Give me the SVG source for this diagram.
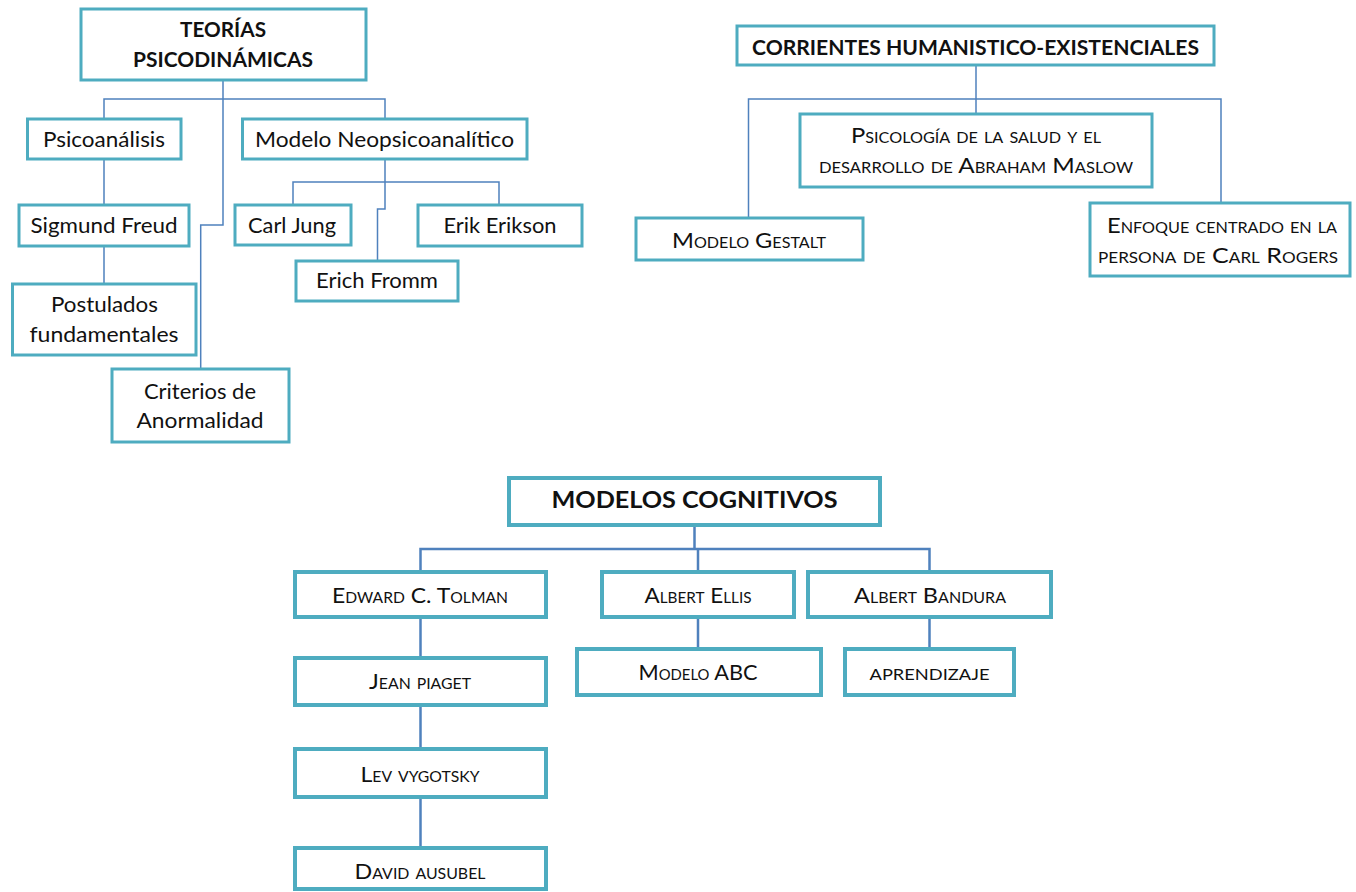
<svg xmlns="http://www.w3.org/2000/svg" width="1356" height="892" viewBox="0 0 1356 892">
<style>
.bx{fill:#fff;stroke:#4eacc0;stroke-width:3}
.bx4{fill:#fff;stroke:#4eacc0;stroke-width:4}
.ln{fill:none;stroke:#4f81bd;stroke-width:1.5}
.lnb{fill:none;stroke:#4f81bd;stroke-width:2.5}
text{font-family:Lato,"Liberation Sans",sans-serif;fill:#111;text-anchor:middle}
.t{font-size:22px}
.h{font-size:21px;font-weight:bold}
.sc{font-size:22px;font-variant:small-caps}
</style>
<rect width="1356" height="892" fill="#fff"/>
<g id="connectors">
<path class="ln" d="M223,80 V225 H200.7 V369"/>
<path class="ln" d="M104,119 V99 H385 V119"/>
<path class="ln" d="M104,159 V205 M104,246 V284"/>
<path class="ln" d="M385,159 V209 H377.5 V261"/>
<path class="ln" d="M293,205 V182 H499 V205"/>
<path class="ln" d="M976,65 V114"/>
<path class="ln" d="M748.5,218 V99 H1221 V203"/>
<path class="lnb" d="M694.5,525 V549"/>
<path class="lnb" d="M420.5,572 V549 H929.5 V572 M698,549 V572"/>
<path class="lnb" d="M420.5,617 V658 M420.5,705 V749 M420.5,797 V848"/>
<path class="lnb" d="M698,617 V649 M929.5,617 V649"/>
</g>
<g id="teorias"><rect class="bx" x="81" y="9" width="285" height="71"/><text class="h" x="223" y="37" textLength="86" lengthAdjust="spacingAndGlyphs">TEORÍAS</text><text class="h" x="223" y="67" textLength="180" lengthAdjust="spacingAndGlyphs">PSICODINÁMICAS</text></g>
<g id="psicoanalisis"><rect class="bx" x="27.5" y="119" width="153.5" height="40"/><text class="t" x="104" y="147" textLength="122" lengthAdjust="spacingAndGlyphs">Psicoanálisis</text></g>
<g id="neopsico"><rect class="bx" x="242.5" y="119" width="284.5" height="40"/><text class="t" x="384.5" y="147" textLength="259" lengthAdjust="spacingAndGlyphs">Modelo Neopsicoanalítico</text></g>
<g id="freud"><rect class="bx" x="19" y="205" width="170" height="41"/><text class="t" x="104" y="233" textLength="147" lengthAdjust="spacingAndGlyphs">Sigmund Freud</text></g>
<g id="jung"><rect class="bx" x="235" y="205" width="116" height="40"/><text class="t" x="292" y="233" textLength="88" lengthAdjust="spacingAndGlyphs">Carl Jung</text></g>
<g id="erikson"><rect class="bx" x="418" y="205" width="164" height="41"/><text class="t" x="500" y="233" textLength="113" lengthAdjust="spacingAndGlyphs">Erik Erikson</text></g>
<g id="fromm"><rect class="bx" x="296" y="261" width="162" height="40"/><text class="t" x="377" y="288" textLength="122" lengthAdjust="spacingAndGlyphs">Erich Fromm</text></g>
<g id="postulados"><rect class="bx" x="12.5" y="284" width="183.5" height="71"/><text class="t" x="104.5" y="312" textLength="107" lengthAdjust="spacingAndGlyphs">Postulados</text><text class="t" x="104" y="342" textLength="149" lengthAdjust="spacingAndGlyphs">fundamentales</text></g>
<g id="criterios"><rect class="bx" x="112" y="369" width="177" height="73"/><text class="t" x="200" y="399" textLength="112" lengthAdjust="spacingAndGlyphs">Criterios de</text><text class="t" x="200" y="428" textLength="127" lengthAdjust="spacingAndGlyphs">Anormalidad</text></g>
<g id="corrientes"><rect class="bx" x="737" y="26" width="477" height="39"/><text class="h" x="975.5" y="55" textLength="447" lengthAdjust="spacingAndGlyphs">CORRIENTES HUMANISTICO-EXISTENCIALES</text></g>
<g id="maslow"><rect class="bx" x="800" y="114" width="352" height="73"/><text class="sc" x="976" y="143" textLength="250" lengthAdjust="spacingAndGlyphs">Psicología de la salud y el</text><text class="sc" x="976" y="173" textLength="314" lengthAdjust="spacingAndGlyphs">desarrollo de Abraham Maslow</text></g>
<g id="gestalt"><rect class="bx" x="636" y="218" width="227" height="42"/><text class="sc" x="749" y="248" textLength="154" lengthAdjust="spacingAndGlyphs">Modelo Gestalt</text></g>
<g id="rogers"><rect class="bx" x="1090" y="203" width="260" height="73"/><text class="sc" x="1222" y="233" textLength="230" lengthAdjust="spacingAndGlyphs">Enfoque centrado en la</text><text class="sc" x="1218" y="263" textLength="240" lengthAdjust="spacingAndGlyphs">persona de Carl Rogers</text></g>
<g id="cognitivos"><rect class="bx4" x="509" y="478" width="371" height="47"/><text class="h" x="694.5" y="508" style="font-size:23px" textLength="286" lengthAdjust="spacingAndGlyphs">MODELOS COGNITIVOS</text></g>
<g id="tolman"><rect class="bx4" x="295" y="572" width="251" height="45"/><text class="sc" x="420" y="603" textLength="176" lengthAdjust="spacingAndGlyphs">Edward C. Tolman</text></g>
<g id="piaget"><rect class="bx4" x="295" y="658" width="251" height="47"/><text class="sc" x="420" y="689" textLength="102" lengthAdjust="spacingAndGlyphs">Jean piaget</text></g>
<g id="vygotsky"><rect class="bx4" x="295" y="749" width="251" height="48"/><text class="sc" x="420" y="782" textLength="119" lengthAdjust="spacingAndGlyphs">Lev vygotsky</text></g>
<g id="ausubel"><rect class="bx4" x="295" y="848" width="251" height="41"/><text class="sc" x="420" y="879" textLength="131" lengthAdjust="spacingAndGlyphs">David ausubel</text></g>
<g id="ellis"><rect class="bx4" x="602" y="572" width="192" height="45"/><text class="sc" x="698" y="603" textLength="107" lengthAdjust="spacingAndGlyphs">Albert Ellis</text></g>
<g id="abc"><rect class="bx4" x="577" y="649" width="244" height="46"/><text class="sc" x="698" y="680" textLength="119" lengthAdjust="spacingAndGlyphs">Modelo ABC</text></g>
<g id="bandura"><rect class="bx4" x="808" y="572" width="243" height="45"/><text class="sc" x="930" y="603" textLength="152" lengthAdjust="spacingAndGlyphs">Albert Bandura</text></g>
<g id="aprendizaje"><rect class="bx4" x="845" y="649" width="169" height="46"/><text class="sc" x="929.5" y="680" textLength="120" lengthAdjust="spacingAndGlyphs">aprendizaje</text></g>
</svg>
